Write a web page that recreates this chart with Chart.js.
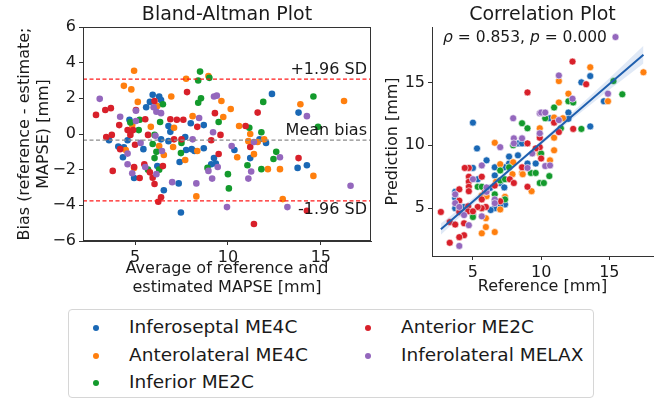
<!DOCTYPE html>
<html>
<head>
<meta charset="utf-8">
<script src="https://cdn.jsdelivr.net/npm/chart.js@4.4.1/dist/chart.umd.min.js"></script>
<style>
  html, body { margin: 0; padding: 0; background: #fff; }
  #wrap { position: relative; width: 659px; height: 399px; overflow: hidden; font-family: "DejaVu Sans", sans-serif; }
  .pane { position: absolute; top: 0; height: 300px; }
  #legend { position: absolute; left: 68px; top: 309px; width: 524px; height: 87px;
            border: 1px solid #d6d6d6; border-radius: 4px; color: #1a1a1a; font-size: 18.5px; }
  .item { position: absolute; height: 22px; line-height: 22px; white-space: nowrap; }
  .dot { position: absolute; width: 6px; height: 6px; border-radius: 50%; top: 9px; }
  .lbl { position: absolute; left: 36px; top: 0; }
</style>
</head>
<body>
<div id="wrap">
  <div class="pane" style="left:0;width:378px"><canvas id="ba"></canvas></div>
  <div class="pane" style="left:378px;width:281px"><canvas id="corr"></canvas></div>
  <div id="legend"></div>
</div>
<script>
// views, in legend order
const views = ['Inferoseptal ME4C', 'Anterolateral ME4C', 'Inferior ME2C', 'Anterior ME2C', 'Inferolateral MELAX'];
const colors = ['#1a68b5', '#ff7f0e', '#139a2c', '#d8202a', '#9467bd'];

// Bland-Altman: [mean of reference and estimate, reference - estimate]
const baInferoseptal = [[3.6,-0.35],[4.1,-0.7],[4.4,-0.75],[4.35,-1.3],[4.7,0.8],[4.6,-0.35],[4.95,-2.47],[5.45,-0.85],
  [5.6,1.5],[5.8,1.8],[5.95,2.2],[6.3,2.1],[6.4,1.9],[6.2,-1.8],[6.55,-3.15],[6.4,-0.3],[6.8,-0.4],[6.8,0.45],[6.9,0.12],
  [7.4,-1.57],[7.75,-0.9],[8.05,-0.85],[8.2,-0.95],[8.7,-0.8],[7.7,-0.17],[8.0,0.6],[8.7,0.5],[9.25,-1.35],[9.1,-1.7],
  [9.35,-1.65],[7.35,-2.77],[7.47,-4.4],[10.35,-0.9],[11.2,-1.35],[11.7,-0.3],[12.05,-0.5],[12.37,2.25],[13.8,1.2],
  [13.75,-1.9],[14.25,-1.75]];
const baAnterolateral = [[4.95,3.55],[4.4,2.7],[4.8,2.5],[5.15,1.8],[4.85,0.5],[4.5,-0.9],[4.95,-1.9],[5.85,0.4],
  [6.2,1.57],[6.3,-0.67],[6.55,-1.18],[6.95,2.1],[7.1,0.35],[7.05,-0.73],[7.7,-1.46],[7.75,3.1],[8.1,1.0],[8.35,-0.95],
  [8.3,-3.5],[8.95,3.25],[9.65,1.85],[9.75,0.95],[10.15,1.4],[10.6,0.45],[11.2,0.0],[11.95,-0.3],[11.1,-0.4],[11.6,-0.45],
  [10.5,-1.3],[11.4,-1.13],[12.15,-1.97],[12.8,-1.97],[13.9,1.67],[14.6,-2.35],[12.95,-3.65],[16.25,1.85]];
const baInferior = [[4.75,0.65],[5.25,0.8],[5.2,0.22],[6.05,-0.05],[6.5,1.67],[6.35,0.67],[5.95,-0.56],[6.15,-1.0],
  [6.05,-1.35],[5.7,-2.0],[6.3,-2.0],[7.5,-0.5],[7.47,-1.07],[8.5,3.5],[8.4,3.0],[9.0,3.15],[8.55,2.0],[8.4,1.75],
  [9.5,0.67],[8.9,-1.9],[10.0,-2.25],[10.05,-3.05],[11.9,1.8],[11.15,0.35],[11.8,0.1],[11.05,-1.75],[11.8,-1.97],
  [12.45,-1.4],[12.6,-1.0],[14.6,2.1],[14.85,0.4]];
const baAnterior = [[2.9,1.07],[3.4,1.35],[3.7,1.45],[3.45,-0.17],[3.75,-0.05],[3.8,-2.07],[4.15,0.5],[4.2,-0.85],
  [4.6,0.22],[4.9,0.22],[4.75,-0.05],[5.0,-0.6],[5.05,1.35],[5.55,0.83],[5.7,-0.05],[4.95,-1.85],[5.25,-2.47],[5.5,-1.7],
  [5.8,-2.15],[5.95,-2.45],[6.05,-2.8],[6.5,-1.8],[6.4,-3.55],[6.25,-3.8],[6.05,1.85],[6.9,0.83],[7.25,0.8],[7.6,0.8],
  [7.1,-0.3],[7.5,-0.3],[7.8,2.35],[8.35,0.4],[9.3,1.17],[9.6,-0.05],[9.1,-0.35],[9.5,-1.12],[10.95,0.45],[11.6,1.2],
  [11.2,-0.73],[13.8,-1.35],[14.25,-4.3],[11.4,-5.05]];
const baInferolateral = [[3.1,1.97],[4.2,0.97],[4.6,-1.1],[4.6,-1.7],[4.85,-2.2],[5.05,1.3],[5.05,0.73],[5.3,-0.5],
  [5.55,-1.85],[6.0,1.5],[6.15,1.25],[6.4,1.17],[6.15,-2.25],[6.1,-0.1],[6.45,-0.95],[7.0,-2.7],[8.3,-2.77],[8.45,0.9],
  [8.1,-0.3],[9.25,2.1],[9.4,2.15],[9.2,0.1],[8.95,-2.07],[9.45,-1.85],[9.15,-2.5],[9.95,-4.1],[10.2,-0.67],[11.4,-0.45],
  [11.25,-2.1],[11.1,-2.5],[12.8,-1.3],[14.25,1.0],[16.6,-2.9],[13.2,-4.1]];

// agreement limits
const upperLoA = 3.08;
const meanBias = -0.34;
const lowerLoA = -3.75;

// Correlation: [reference, prediction]
const corrInferoseptal = [[5.0,11.8],[5.3,9.75],[8.3,10.15],[8.6,10.15],[8.3,9.2],[9.9,10.9],[9.0,8.55],[7.65,8.55],
  [7.65,9.1],[7.3,8.25],[6.6,8.25],[6.6,7.6],[7.0,7.0],[7.3,6.65],[6.25,6.6],[5.0,8.2],[6.0,8.8],[5.35,7.3],[7.35,5.3],
  [7.0,5.15],[6.6,5.0],[6.3,4.85],[3.7,6.3],[3.7,5.8],[3.7,5.0],[4.35,5.1],[5.0,4.5],[13.6,15.5],[12.95,15.0],[14.6,13.5],
  [12.0,12.6],[10.65,12.15],[12.0,12.1],[13.6,11.5],[9.6,8.55]];
const corrAnterolateral = [[6.6,10.2],[9.9,11.35],[9.9,9.35],[8.6,7.8],[9.3,6.35],[7.9,7.7],[7.0,8.5],[6.7,7.1],
  [5.65,6.0],[6.0,5.95],[7.0,4.9],[7.35,5.9],[5.95,4.2],[5.95,3.5],[5.65,3.0],[6.6,3.1],[4.0,4.9],[13.6,16.2],[11.3,15.1],
  [17.5,15.8],[14.9,13.5],[12.0,14.1],[11.3,13.4],[10.95,12.2],[11.6,12.15],[10.95,10.6],[10.95,9.6],[10.65,8.8],
  [8.65,7.7],[7.95,8.65]];
const corrInferior = [[8.6,11.75],[9.0,11.35],[9.25,7.8],[9.6,7.8],[9.9,7.0],[10.2,7.0],[7.65,8.25],[7.0,8.0],[7.0,7.2],
  [7.35,7.3],[5.35,6.7],[5.65,6.7],[6.6,6.1],[6.6,5.6],[7.35,5.7],[5.65,5.0],[5.0,4.3],[15.3,15.1],[15.95,14.05],
  [12.0,13.5],[12.35,13.4],[10.95,13.0],[10.3,12.15],[11.45,11.35],[12.95,11.3],[10.0,9.35],[10.6,7.55],[7.95,10.0]];
const corrAnterior = [[9.0,10.15],[9.9,9.85],[8.6,8.25],[9.0,6.7],[7.7,7.3],[8.0,7.0],[6.6,6.8],[5.65,7.5],[4.7,8.2],
  [4.4,8.2],[4.7,7.5],[4.7,7.1],[4.7,6.7],[4.7,6.35],[5.9,6.3],[5.65,5.7],[7.0,5.55],[5.95,5.1],[5.65,5.0],[5.35,5.1],
  [4.0,6.5],[4.0,5.6],[4.65,5.15],[4.65,4.75],[5.0,4.75],[4.0,4.7],[2.65,4.7],[3.3,3.9],[3.7,3.7],[4.35,3.8],[4.35,2.85],
  [4.0,2.7],[3.3,2.25],[12.3,16.65],[13.3,14.85],[9.0,14.2],[10.95,11.8],[12.35,11.3],[9.9,10.6],[11.3,11.05],[10.0,8.95],
  [9.6,9.75]];
const corrInferolateral = [[7.0,9.85],[7.95,12.15],[8.0,10.55],[8.0,10.15],[8.6,10.55],[9.35,9.35],[9.9,10.95],
  [9.9,12.55],[10.2,12.55],[9.0,8.2],[10.3,8.35],[5.65,8.4],[5.0,7.3],[6.0,6.3],[6.0,6.65],[6.6,5.7],[6.6,5.4],[3.7,6.1],
  [3.7,5.4],[4.0,5.1],[4.35,4.45],[4.7,3.65],[5.65,4.35],[4.0,2.0],[15.45,18.6],[11.3,15.55],[14.9,14.1],[12.3,13.7],
  [10.0,12.6],[10.3,12.6],[11.3,12.0],[10.65,8.4]];

// regression fit with its confidence band
const regX = [2.65, 5, 8, 10, 12, 15, 17.5];
const regY = [3.33, 5.53, 8.33, 10.2, 12.07, 14.87, 17.2];
const regHi = [3.78, 5.78, 8.48, 10.35, 12.32, 15.32, 17.9];
const regLo = [2.88, 5.28, 8.18, 10.05, 11.82, 14.42, 16.5];

const tickValues = [5, 10, 15];
const rho = '0.853';
const pValue = '0.000';

const FONT = '"DejaVu Sans", sans-serif';
const INK = '#1a1a1a';
const SPINE = '#333';
const LABEL_SIZE = 16;

const toXY = arr => arr.map(p => ({ x: p[0], y: p[1] }));
const minus = v => (v < 0 ? '\u2212' + Math.abs(v) : String(v));

function axis(opts) {
  return Object.assign({
    type: 'linear',
    grid: { display: true, drawOnChartArea: false, drawTicks: true, tickLength: 4, color: SPINE },
    border: { display: true, color: SPINE, width: 1 },
    ticks: { color: INK, font: { family: FONT, size: LABEL_SIZE }, padding: 3, callback: minus }
  }, opts);
}

const titlePlugin = {
  id: 'panelText',
  afterDraw(chart, args, o) {
    const { ctx, chartArea: a } = chart;
    ctx.save();
    if (o.box) {
      ctx.strokeStyle = SPINE;
      ctx.lineWidth = 1;
      ctx.strokeRect(a.left + 0.5, a.top + 0.5, a.right - a.left - 1, a.bottom - a.top - 1);
    }
    ctx.fillStyle = INK;
    ctx.font = '19px ' + FONT;
    ctx.textAlign = 'center';
    ctx.textBaseline = 'middle';
    ctx.fillText(o.title, (a.left + a.right) / 2, 15);
    if (o.after) o.after(chart, ctx);
    ctx.restore();
  }
};

// Bland-Altman panel
const baSets = [baInferoseptal, baAnterolateral, baInferior, baAnterior, baInferolateral];
const baX0 = 2.2, baX1 = 17.7;
const hline = (y, color) => ({
  type: 'line', data: [{ x: baX0, y }, { x: baX1, y }], borderColor: color, borderWidth: 1.2,
  borderDash: [4, 2.5], pointRadius: 0, order: 0
});

new Chart(document.getElementById('ba'), {
  type: 'scatter',
  data: {
    datasets: [
      hline(upperLoA, '#ff1a1a'), hline(meanBias, '#8c8c8c'), hline(lowerLoA, '#ff1a1a'),
      ...baSets.map((s, i) => ({
        label: views[i], data: toXY(s), backgroundColor: colors[i], borderWidth: 0, pointRadius: 3.3, order: 5 - i
      }))
    ]
  },
  options: {
    responsive: true, maintainAspectRatio: false, animation: false, devicePixelRatio: 1,
    layout: { padding: { top: 27, right: 7, left: 0, bottom: 0 } },
    plugins: {
      legend: { display: false }, tooltip: { enabled: false },
      panelText: {
        title: 'Bland-Altman Plot', box: true,
        after(chart, ctx) {
          const y = chart.scales.y, right = chart.chartArea.right - 4;
          ctx.font = LABEL_SIZE + 'px ' + FONT;
          ctx.textAlign = 'right';
          ctx.textBaseline = 'bottom';
          ctx.fillText('+1.96 SD', right, y.getPixelForValue(upperLoA) - 1);
          ctx.fillText('Mean bias', right, y.getPixelForValue(meanBias) - 1);
          ctx.textBaseline = 'top';
          ctx.fillText('-1.96 SD', right, y.getPixelForValue(lowerLoA) + 1);
        }
      }
    },
    scales: {
      x: axis({
        min: baX0, max: baX1,
        afterBuildTicks: s => { s.ticks = tickValues.map(v => ({ value: v })); },
        afterFit: s => { s.height = 59; },
        title: { display: true, text: ['Average of reference and', 'estimated MAPSE [mm]'], color: INK,
                 font: { family: FONT, size: LABEL_SIZE }, padding: { top: 0, bottom: 2.4 } }
      }),
      y: axis({
        min: -6, max: 6,
        ticks: { color: INK, font: { family: FONT, size: LABEL_SIZE }, padding: 3, stepSize: 2, callback: minus },
        afterFit: s => { s.width = 83; },
        title: { display: true, text: ['Bias (reference - estimate;', 'MAPSE) [mm]'], color: INK,
                 font: { family: FONT, size: LABEL_SIZE }, padding: { top: 15.4, bottom: 0 } }
      })
    }
  },
  plugins: [titlePlugin]
});

// Correlation panel
const corrSets = [corrInferoseptal, corrAnterolateral, corrInferior, corrAnterior, corrInferolateral];
const line = ys => regX.map((x, i) => ({ x, y: ys[i] }));

new Chart(document.getElementById('corr'), {
  type: 'scatter',
  data: {
    datasets: [
      { type: 'line', data: line(regY), borderColor: '#1f5fae', borderWidth: 2, pointRadius: 0, order: 0 },
      { type: 'line', data: line(regHi), borderWidth: 0, pointRadius: 0, fill: '+1',
        backgroundColor: 'rgba(60,120,200,0.16)', order: 1 },
      { type: 'line', data: line(regLo), borderWidth: 0, pointRadius: 0, fill: false, order: 1 },
      ...corrSets.map((s, i) => ({
        label: views[i], data: toXY(s), backgroundColor: colors[i], borderColor: '#fff', borderWidth: 0.6,
        pointRadius: 3.5, order: 7 - i
      }))
    ]
  },
  options: {
    responsive: true, maintainAspectRatio: false, animation: false, devicePixelRatio: 1,
    layout: { padding: { top: 27, right: 6, left: 0, bottom: 0 } },
    plugins: {
      legend: { display: false }, tooltip: { enabled: false },
      panelText: {
        title: 'Correlation Plot',
        after(chart, ctx) {
          // ρ = 0.853, p = 0.000 with italic symbols
          const parts = [['italic ', '\u03c1'], ['', ' = ' + rho + ', '], ['italic ', 'p'], ['', ' = ' + pValue]];
          let x = 65;
          ctx.textAlign = 'left';
          ctx.textBaseline = 'middle';
          parts.forEach(([style, t]) => {
            ctx.font = style + '15.5px ' + FONT;
            ctx.fillText(t, x, 38);
            x += ctx.measureText(t).width;
          });
        }
      }
    },
    scales: {
      x: axis({
        min: 2.0, max: 18.2,
        afterBuildTicks: s => { s.ticks = tickValues.map(v => ({ value: v })); },
        afterFit: s => { s.height = 44; },
        title: { display: true, text: 'Reference [mm]', color: INK, font: { family: FONT, size: LABEL_SIZE },
                 padding: { top: 0, bottom: 3.4 } }
      }),
      y: axis({
        min: 1.2, max: 19.4,
        afterBuildTicks: s => { s.ticks = tickValues.map(v => ({ value: v })); },
        afterFit: s => { s.width = 54; },
        title: { display: true, text: 'Prediction [mm]', color: INK, font: { family: FONT, size: LABEL_SIZE },
                 padding: { top: 5.4, bottom: 0 } }
      })
    }
  },
  plugins: [titlePlugin]
});

// shared legend, filled column by column
const legend = document.getElementById('legend');
views.forEach((name, i) => {
  const col = i < 3 ? 0 : 1, row = i < 3 ? i : i - 3;
  const item = document.createElement('div');
  item.className = 'item';
  item.style.left = (col ? 296 : 24) + 'px';
  item.style.top = (6 + row * 27.5) + 'px';
  item.innerHTML = '<span class="dot" style="background:' + colors[i] + '"></span><span class="lbl">' + name + '</span>';
  legend.appendChild(item);
});
</script>
</body>
</html>
